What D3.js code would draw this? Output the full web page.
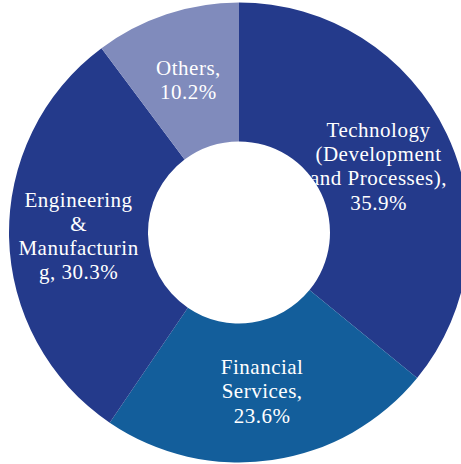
<!DOCTYPE html>
<html>
<head>
<meta charset="utf-8">
<script src="https://cdn.jsdelivr.net/npm/d3@7/dist/d3.min.js"></script>
<style>
  html, body { margin: 0; padding: 0; background: #ffffff; }
  svg { display: block; }
</style>
</head>
<body>
<svg id="chart" width="461" height="464"></svg>
<script>
// Share of roles by field (percent)
const categories = ["Technology (Development and Processes)", "Financial Services", "Engineering & Manufacturing", "Others"];
const shares = [35.9, 23.6, 30.3, 10.2];
const sliceColors = ["#243a8b", "#135e9b", "#243a8b", "#808bbc"];
// Wrapped label text, one entry per line
const labelLines = [
  ["Technology", "(Development", "and Processes),", "35.9%"],
  ["Financial", "Services,", "23.6%"],
  ["Engineering", "&", "Manufacturin", "g, 30.3%"],
  ["Others,", "10.2%"]
];

const width = 461, height = 464;
const cx = 239, cy = 232.5;
const outerR = 230, innerR = 91;
const lineH = 24.3;
const edgeMargin = 14;

const svg = d3.select("#chart");
const g = svg.append("g").attr("transform", `translate(${cx},${cy})`);

const pie = d3.pie().sort(null).value(d => d.value);
const arc = d3.arc().innerRadius(innerR).outerRadius(outerR);

const data = categories.map((c, i) => ({ name: c, value: shares[i], color: sliceColors[i], lines: labelLines[i] }));
const arcs = pie(data);

g.selectAll("path.slice")
  .data(arcs)
  .join("path")
  .attr("class", "slice")
  .attr("d", arc)
  .attr("fill", d => d.data.color);

const labels = g.selectAll("text.label")
  .data(arcs)
  .join("text")
  .attr("class", "label")
  .attr("text-anchor", "middle")
  .attr("fill", "#ffffff")
  .style("font-family", "'Liberation Serif', 'Times New Roman', serif")
  .style("font-size", "21px")
  .style("letter-spacing", "0.5px");

function placeLines(sel, x, y, lines) {
  const n = lines.length;
  sel.selectAll("tspan")
    .data(lines)
    .join("tspan")
    .attr("x", x)
    .attr("y", (t, i) => y + (i - (n - 1) / 2) * lineH + 7)
    .text(t => t);
}

labels.each(function(d) {
  const sel = d3.select(this);
  let [x, y] = arc.centroid(d);
  placeLines(sel, x, y, d.data.lines);
  // Keep each label block inside the drawing area: pull it in along its radius
  const box = this.getBBox();
  const overRight = (cx + box.x + box.width) - (width - edgeMargin);
  const overLeft = (edgeMargin) - (cx + box.x);
  const over = Math.max(overRight, overLeft, 0);
  if (over > 0) {
    const r = Math.hypot(x, y);
    const k = over / (Math.abs(x) / r);
    x -= x / r * k;
    y -= y / r * k;
    placeLines(sel, x, y, d.data.lines);
  }
});
</script>
</body>
</html>
